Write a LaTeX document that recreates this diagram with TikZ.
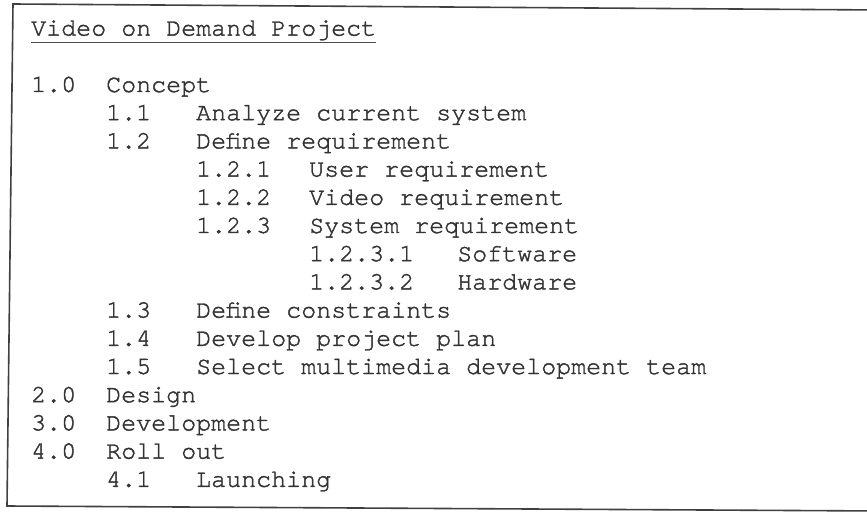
\documentclass[tikz,border=0pt]{standalone}
\usepackage{fontspec}
\newfontfamily\typewriter[FakeBold=1.6]{texgyrecursor-regular.otf}
\usepackage{tikz}
\usetikzlibrary{positioning}
\tikzstyle{entry} = [anchor=base west, inner sep=0pt, font=\typewriter\fontsize{25}{25}\selectfont, text=black!80]
\tikzstyle{frame} = [line width=1.6pt, draw=black!75]
\tikzstyle{rule} = [line width=0.9pt, draw=black!70]

\begin{document}
\begin{tikzpicture}[x=1pt, y=-1pt]
	\useasboundingbox (0,0) rectangle (867,513);
	\clip (0,0) rectangle (867,513);
	
	% Frame
	\draw [frame] (880,10) -- (13,4) -- (7,506) -- (880,511);
	
	% Title
	\node (title) [entry] at (31,35.6) {Video on Demand Project};
	\draw [rule] ([yshift=-6.5pt]title.base west) -- ([yshift=-6.5pt]title.base east);
	
	% Level 1.0
	\node (n10) [entry] at (31,92) {1.0};
	\node (t10) [entry] at (106,92) {Concept};
	\node (n11) [entry] at (106,120.2) {1.1};
	\node (t11) [entry] at (196,120.2) {Analyze current system};
	\node (n12) [entry] at (106,148.4) {1.2};
	\node (t12) [entry] at (196,148.4) {Define requirement};
	\node (n121) [entry] at (196,176.6) {1.2.1};
	\node (t121) [entry] at (309,176.6) {User requirement};
	\node (n122) [entry] at (196,204.8) {1.2.2};
	\node (t122) [entry] at (309,204.8) {Video requirement};
	\node (n123) [entry] at (196,233) {1.2.3};
	\node (t123) [entry] at (309,233) {System requirement};
	\node (n1231) [entry] at (309,261.2) {1.2.3.1};
	\node (t1231) [entry] at (457,261.2) {Software};
	\node (n1232) [entry] at (309,289.4) {1.2.3.2};
	\node (t1232) [entry] at (457,289.4) {Hardware};
	\node (n13) [entry] at (106,317.6) {1.3};
	\node (t13) [entry] at (196,317.6) {Define constraints};
	\node (n14) [entry] at (106,345.8) {1.4};
	\node (t14) [entry] at (196,345.8) {Develop project plan};
	\node (n15) [entry] at (106,374) {1.5};
	\node (t15) [entry] at (196,374) {Select multimedia development team};
	
	% Levels 2.0 to 4.0
	\node (n20) [entry] at (31,402.2) {2.0};
	\node (t20) [entry] at (106,402.2) {Design};
	\node (n30) [entry] at (31,430.4) {3.0};
	\node (t30) [entry] at (106,430.4) {Development};
	\node (n40) [entry] at (31,458.6) {4.0};
	\node (t40) [entry] at (106,458.6) {Roll out};
	\node (n41) [entry] at (106,486.8) {4.1};
	\node (t41) [entry] at (196,486.8) {Launching};
	
\end{tikzpicture}
\end{document}
